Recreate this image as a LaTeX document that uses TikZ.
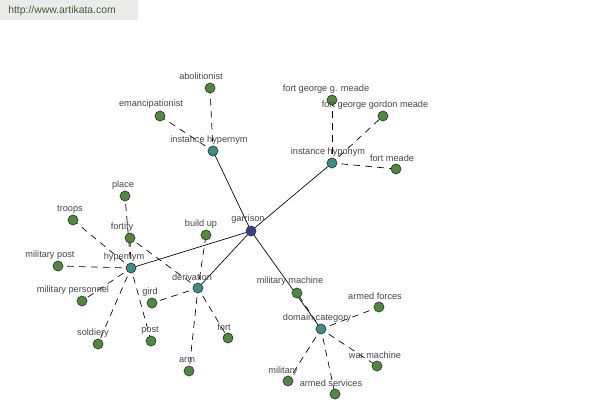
\documentclass[tikz,border=0pt]{standalone}
\usepackage{fontspec}
\setmainfont{Liberation Sans}
\begin{document}
\begin{tikzpicture}[x=0.75pt,y=-0.75pt,
  leaf/.style={circle,draw=black!80,line width=0.5pt,fill=leafgreen,inner sep=0pt,minimum size=7.5pt},
  rel/.style={circle,draw=black!80,line width=0.5pt,fill=relteal,inner sep=0pt,minimum size=7.5pt},
  root/.style={circle,draw=black!80,line width=0.5pt,fill=rootblue,inner sep=0pt,minimum size=7.5pt},
  lbl/.style={font=\fontsize{6.9}{8}\selectfont,text=black!72,inner sep=0pt},
  solidedge/.style={draw=black,line width=0.5pt},
  dashedge/.style={draw=black,line width=0.5pt,dash pattern=on 5pt off 4pt,dash phase=2pt}]
\definecolor{leafgreen}{HTML}{4E8A3E}
\definecolor{relteal}{HTML}{3C8C8C}
\definecolor{rootblue}{HTML}{3A3F8C}
\definecolor{wmgray}{HTML}{EBEBEB}
\definecolor{wmtext}{HTML}{4A5A30}
\useasboundingbox (0,0) rectangle (600,400);
\fill[white] (0,0) rectangle (600,400);
\fill[wmgray] (0,0) rectangle (138,20);
\node[anchor=west,font=\fontsize{7.8}{9}\selectfont,text=wmtext,inner sep=0pt] (wm) at (8,11) {http://www.artikata.com};
% coordinates of nodes
\coordinate (garrison) at (251,231);
\coordinate (ihyper) at (213,151);
\coordinate (abol) at (210,88);
\coordinate (eman) at (160,116);
\coordinate (ihypo) at (332,163);
\coordinate (fggm) at (332,100);
\coordinate (fggordon) at (383,116);
\coordinate (fmeade) at (396,169);
\coordinate (hyper) at (131,268);
\coordinate (place) at (125,196);
\coordinate (troops) at (73,220);
\coordinate (fortify) at (130,238);
\coordinate (mpost) at (58,266);
\coordinate (mpers) at (82,301);
\coordinate (soldiery) at (98,344);
\coordinate (post) at (151,341);
\coordinate (gird) at (152,303);
\coordinate (deriv) at (198,288);
\coordinate (buildup) at (206,235);
\coordinate (fort) at (228,338);
\coordinate (arm) at (189,371);
\coordinate (mmach) at (297,293);
\coordinate (domcat) at (321,329);
\coordinate (aforces) at (379,307);
\coordinate (warmach) at (377,366);
\coordinate (military) at (288,381);
\coordinate (aserv) at (335,394);
% solid edges
\draw[solidedge] (garrison) -- (ihyper);
\draw[solidedge] (garrison) -- (ihypo);
\draw[solidedge] (garrison) -- (hyper);
\draw[solidedge] (garrison) -- (deriv);
\draw[solidedge] (garrison) -- (domcat);
% dashed edges
\draw[dashedge] (ihyper) -- (abol);
\draw[dashedge] (ihyper) -- (eman);
\draw[dashedge] (ihypo) -- (fggm);
\draw[dashedge] (ihypo) -- (fggordon);
\draw[dashedge] (ihypo) -- (fmeade);
\draw[dashedge] (hyper) -- (place);
\draw[dashedge] (hyper) -- (troops);
\draw[dashedge] (hyper) -- (fortify);
\draw[dashedge] (hyper) -- (mpost);
\draw[dashedge] (hyper) -- (mpers);
\draw[dashedge] (hyper) -- (soldiery);
\draw[dashedge] (hyper) -- (post);
\draw[dashedge] (deriv) -- (fortify);
\draw[dashedge] (deriv) -- (buildup);
\draw[dashedge] (deriv) -- (gird);
\draw[dashedge] (deriv) -- (fort);
\draw[dashedge] (deriv) -- (arm);
\draw[dashedge] (domcat) -- (mmach);
\draw[dashedge] (domcat) -- (aforces);
\draw[dashedge] (domcat) -- (warmach);
\draw[dashedge] (domcat) -- (military);
\draw[dashedge] (domcat) -- (aserv);
% circles
\node[root] (n-garrison) at (garrison) {};
\foreach \c in {ihyper,ihypo,hyper,deriv,domcat}
  \node[rel] (n-\c) at (\c) {};
\foreach \c in {abol,eman,fggm,fggordon,fmeade,place,troops,fortify,mpost,mpers,soldiery,post,gird,buildup,fort,arm,mmach,aforces,warmach,military,aserv}
  \node[leaf] (n-\c) at (\c) {};
% labels
\node[lbl] (l-garrison) at (248,219) {garrison};
\node[lbl] (l-ihyper) at (209,140) {instance hypernym};
\node[lbl] (l-abol) at (201,76) {abolitionist};
\node[lbl] (l-eman) at (151,104) {emancipationist};
\node[lbl] (l-ihypo) at (328,152) {instance hyponym};
\node[lbl] (l-fggm) at (326,89) {fort george g. meade};
\node[lbl] (l-fggordon) at (375,105) {fort george gordon meade};
\node[lbl] (l-fmeade) at (392,158) {fort meade};
\node[lbl] (l-hyper) at (124,257) {hypernym};
\node[lbl] (l-place) at (123,185) {place};
\node[lbl] (l-troops) at (70,209) {troops};
\node[lbl] (l-fortify) at (122,227) {fortify};
\node[lbl] (l-mpost) at (50,255) {military post};
\node[lbl] (l-mpers) at (73,290) {military personnel};
\node[lbl] (l-soldiery) at (93,333) {soldiery};
\node[lbl] (l-post) at (150,330) {post};
\node[lbl] (l-gird) at (150,292) {gird};
\node[lbl] (l-deriv) at (192,277) {derivation};
\node[lbl] (l-buildup) at (201,224) {build up};
\node[lbl] (l-fort) at (224,327) {fort};
\node[lbl] (l-arm) at (187,360) {arm};
\node[lbl] (l-mmach) at (290,281) {military machine};
\node[lbl] (l-domcat) at (317,318) {domain category};
\node[lbl] (l-aforces) at (375,296) {armed forces};
\node[lbl] (l-warmach) at (375,355) {war machine};
\node[lbl] (l-military) at (283,371) {military};
\node[lbl] (l-aserv) at (331,383) {armed services};
\end{tikzpicture}
\end{document}
